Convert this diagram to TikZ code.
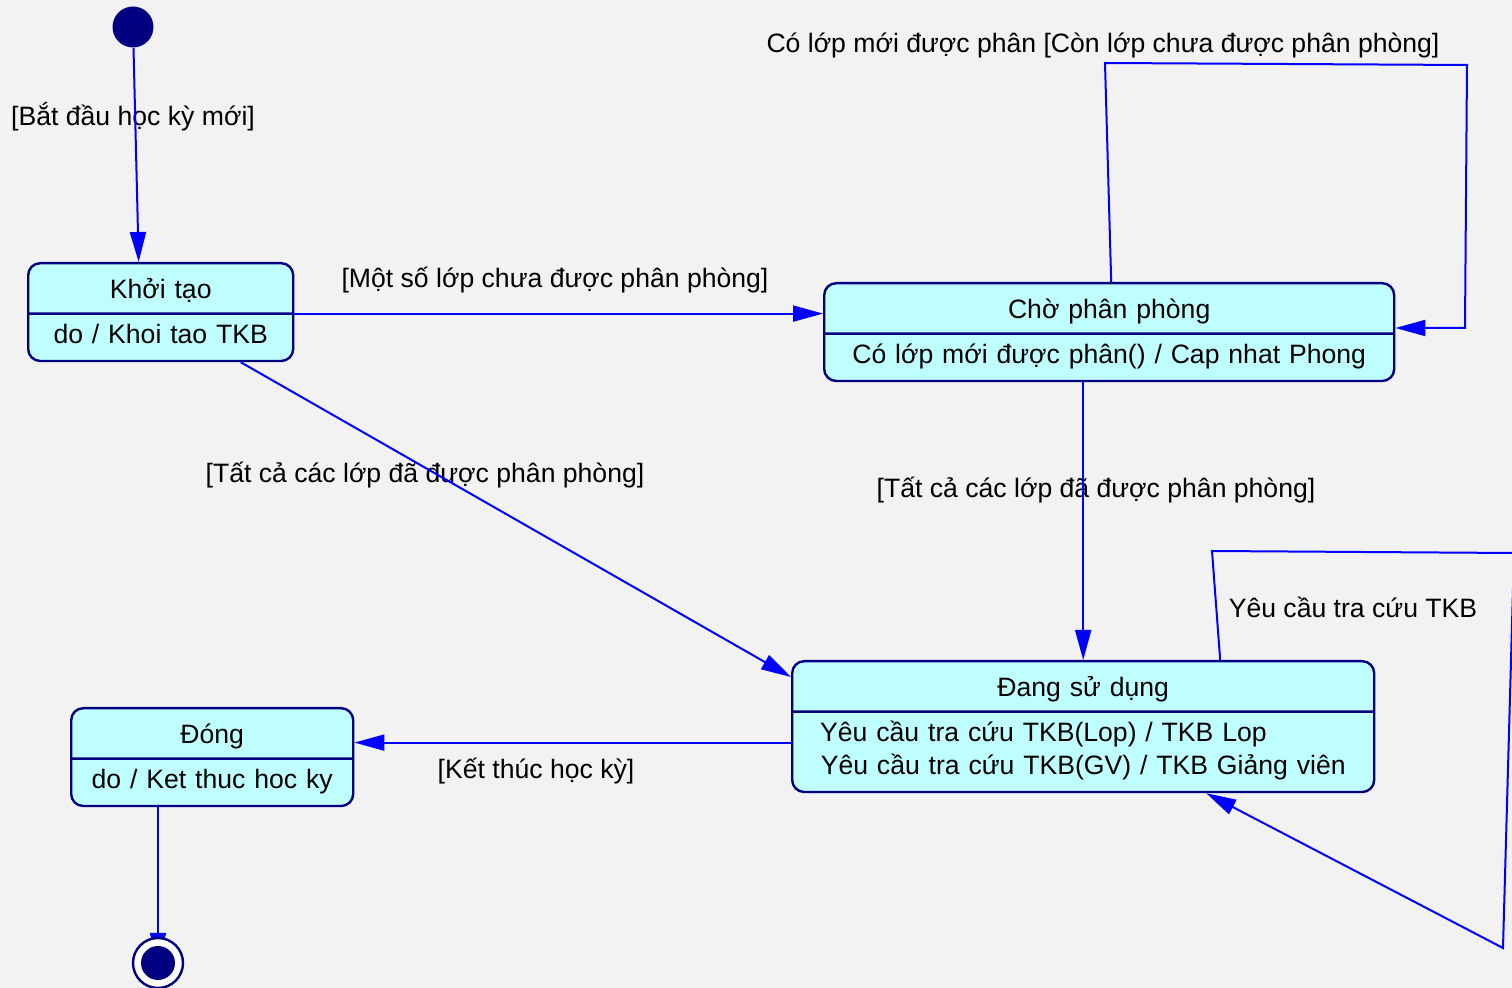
\documentclass[tikz,border=0pt]{standalone}
\usepackage{fontspec}
\setmainfont{Liberation Sans}
\usetikzlibrary{shapes.multipart, arrows.meta, backgrounds}
\definecolor{navy}{RGB}{0,0,128}
\definecolor{statefill}{RGB}{192,255,255}
\definecolor{paper}{RGB}{242,242,242}
\definecolor{linkblue}{RGB}{0,0,255}
\newcommand{\headstrut}{\rule[-4pt]{0pt}{18pt}}
\tikzstyle{state} = [rectangle split, rectangle split parts=2, rounded corners=6pt, draw=navy, line width=1.2pt, fill=statefill, inner xsep=6pt, inner ysep=3pt, align=center]
\tikzstyle{startstate} = [circle, fill=navy, minimum size=20.5pt, inner sep=0pt]
\tikzstyle{endstate} = [circle, draw=navy, line width=1.2pt, fill=white, minimum size=25pt, inner sep=0pt]
\tikzstyle{enddot} = [circle, fill=navy, minimum size=17pt, inner sep=0pt]
\tikzstyle{arrow} = [line width=1pt, draw=linkblue, -{Triangle[length=15pt,width=8pt]}]
\tikzstyle{guard} = [inner sep=0pt]

\begin{document}
\begin{tikzpicture}[x=0.5pt, y=-0.5pt, font=\fontsize{13.3}{16.5}\selectfont]
\useasboundingbox (0,0) rectangle (1512,988);

\node (init) [startstate] at (133,27) {};
\node (khoi) [state, text width=120.5pt, anchor=north west] at (27,262)
  {\headstrut Khởi tạo \nodepart{two} \strut do / Khoi tao TKB};
\node (cho) [state, text width=273pt, anchor=north west] at (823,282)
  {\headstrut Chờ phân phòng \nodepart{two} \strut Có lớp mới được phân() / Cap nhat Phong};
\node (dang) [state, inner xsep=14pt, text width=263pt, anchor=north west] at (791,660)
  {\headstrut Đang sử dụng \nodepart{two} \raggedright\strut Yêu cầu tra cứu TKB(Lop) / TKB Lop\\\strut Yêu cầu tra cứu TKB(GV) / TKB Giảng viên};
\node (dong) [state, text width=129pt, anchor=north west] at (70,707)
  {\headstrut Đóng \nodepart{two} \strut do / Ket thuc hoc ky};
\node (final) [endstate] at (158,963) {};
\node (finaldot) [enddot] at (final) {};

% guards
\node (gNew) [guard] at (133,117) {[Bắt đầu học kỳ mới]};
\node (gSome) [guard] at (555,280) {[Một số lớp chưa được phân phòng]};
\node (gAllL) [guard] at (425,475) {[Tất cả các lớp đã được phân phòng]};
\node (gAllR) [guard] at (1096,490) {[Tất cả các lớp đã được phân phòng]};
\node (gLoop) [guard] at (1103,45) {Có lớp mới được phân [Còn lớp chưa được phân phòng]};
\node (gQuery) [guard] at (1353,607) {Yêu cầu tra cứu TKB};
\node (gEnd) [guard] at (536,771) {[Kết thúc học kỳ]};

% self loops
\coordinate (c1) at (1105,63);
\coordinate (c2) at (1467,65);
\coordinate (c3) at (1465,328);
\coordinate (d1) at (1212,551);
\coordinate (d2) at (1514,553);
\coordinate (d3) at (1503,948);

\draw [arrow] (init) -- ([xshift=-11pt]khoi.north);
\draw [arrow] (khoi.text split east) -- (khoi.text split east -| cho.west);
\draw [arrow] ([xshift=40pt]khoi.south) -- ([yshift=-8.5pt]dang.north west);
\draw [arrow] (cho.south -| dang.north) -- (dang.north);
\draw [arrow] ([xshift=1pt]cho.north) -- (c1) -- (c2) -- (c3) -- (c3 -| cho.east);
\draw [arrow] ([xshift=68.5pt]dang.north) -- (d1) -- (d2) -- (d3) -- ([xshift=61.5pt]dang.south);
\draw [arrow] ([yshift=-8pt]dang.west) -- ([yshift=-8pt]dang.west -| dong.east);

\begin{pgfonlayer}{background}
\fill [paper] (0,0) rectangle (1512,988);
\draw [arrow] (final |- dong.south) -- (final.center);
\end{pgfonlayer}
\end{tikzpicture}
\end{document}
